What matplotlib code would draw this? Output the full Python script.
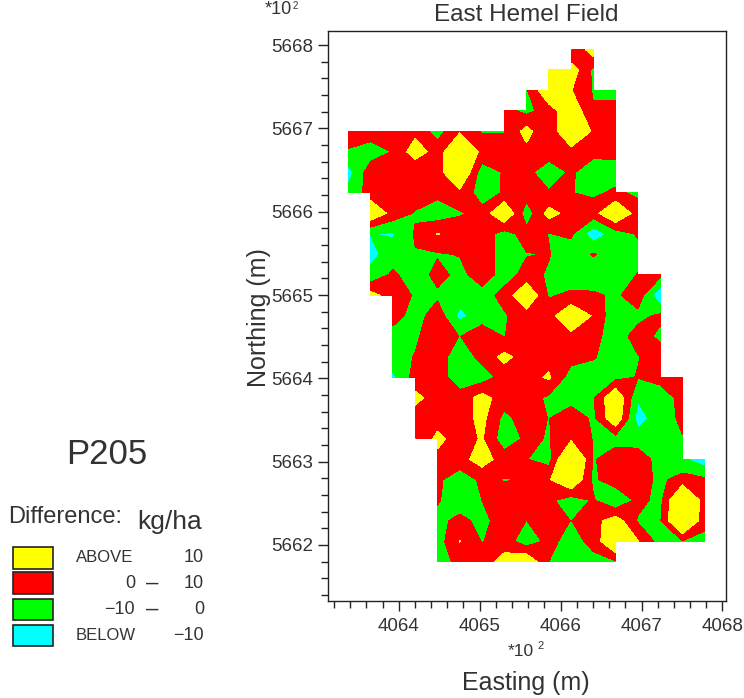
# -*- coding: utf-8 -*-
"""East Hemel Field - P205 difference map."""
import matplotlib
matplotlib.use('Agg')
from matplotlib import patches
import matplotlib.pyplot as plt
import numpy as np

N = np.nan
FONT = 'Liberation Sans'

# difference in kg/ha at the grid nodes, south row first, west column first
difference = np.array([
    [N, N, N, N, -5, 3, 5, 14, 20, 0, -5, -3, -1, N, N, N, N],
    [N, N, N, N, -5, 10.3, -0.5, 5, -6, 3, -4, 3, 24, 10.5, -4, -0.5, -3],
    [N, N, N, N, -3, 3, -3, 5, -0.1, 5, -0.2, 6, 16, -1, -1, 28, 3],
    [N, N, N, N, 1, -6, 0, 5, 5, 2, -5, 1, -10.2, 3, -3, 28, 5],
    [N, N, N, N, 2, -6, 2, -0.5, 0.5, 9, 22, -2, 6, 4, -2, 4, 2],
    [N, N, N, N, 7, 6, 15, 5, 0.3, -4, 30, -1, 6, 7, -5, -8, -16],
    [N, N, N, -1, 13, 5, 11, -6, 2, -0.7, 8, -0.5, -4, -6, -5, -0.5, N],
    [N, N, N, 5, 5, 5, 13, -3, 5, -0.3, 7, -2, 19, -14, -5, 2, N],
    [N, N, N, 13, 5, 4, 14, 5, 5, -2, -5, -1, 21, -9, -5, 3, N],
    [N, N, -12, 4, 5, -6, -5, 4, 6, 11.5, -5, -6, -3, 0.5, 3, 4, N],
    [N, N, -4, 0.5, 5, -6, 3, 13, 5, 6, 4, 1, -6, -0.5, 5, N, N],
    [N, N, -5, -1.5, 6, -0.2, 5, -0.3, 6, 7, 7, 3, -5, 4, -2, N, N],
    [N, N, 5, -5, 6, -13, -4, -1, 5, 6, 20, 9, -8, -3, 2, N, N],
    [N, 14, 5, -1, -2, -6, -4, 3, 21, -1, 2, 2, -2, 6, -18, N, N],
    [N, -7.5, 2, -6, 3.5, -3, 5, -4, 3, -1, -6, -8, -6, 0.5, 3, N, N],
    [N, -12.5, -6, -0.5, -1, 0.5, 6, -5, -0.5, 0.5, -6, 1, -5, -3, N, N, N],
    [N, -9.8, -11, 1, 10.5, 6, 5, -4, 4, -0.3, 2, -17, -5, 1, N, N, N],
    [N, 20, 6, -1, -6, -1, 3, 22, -6, 14, 6, 6, 22, 5, N, N, N],
    [-7, 4, 6, 6, 3, 7, -4.6, 1, 5, 1, 0.3, -2, 2, -2, N, N, N],
    [-14, 6, 5, -0.3, 5, 24, -6, 1, 3, -6, 1.5, -6, -5, N, N, N, N],
    [-1, -5, 0.5, 16, 5, 22, 7.5, 5, 7, 5, 5, 3, 3, N, N, N, N],
    [5, 5, 5, 7, -4, 9, -1, -0.5, 14, -0.5, 26, 8, 4, N, N, N, N],
    [N, N, N, N, N, N, N, 4, -3, 5, 18, 1, 3, N, N, N, N],
    [N, N, N, N, N, N, N, N, -1, 20, 10.5, -1, -3, N, N, N, N],
    [N, N, N, N, N, N, N, N, N, 20, 16, -2, N, N, N, N, N],
    [N, N, N, N, N, N, N, N, N, N, -2, 17, N, N, N, N, N],
])
easting = np.linspace(4063.378, 4067.78, difference.shape[1])
northing = np.linspace(5661.797, 5667.95, difference.shape[0])

class_levels = [-100, -10, 0, 10, 100]
class_colors = ['#00ffff', '#00ff00', '#ff0000', '#ffff00']

# legend rows, top to bottom: colour, label, dash, high
legend_colors = ['#ffff00', '#ff0000', '#00ff00', '#00ffff']
legend_left = ['ABOVE', '0', '\u221210', 'BELOW']
legend_dash = ['', '\u2013', '\u2013', '']
legend_right = ['10', '10', '0', '\u221210']

W, H = 744, 698


def px(x, y):
    """Пиксели картинки (от верхнего левого угла) в доли фигуры."""
    return x / W, 1 - y / H


def label(fig, x, y, s, size, ha='left', rotation=0):
    fx, fy = px(x, y)
    fig.text(fx, fy, s, fontsize=size, ha=ha, va='center', rotation=rotation,
             family=FONT, color='#333333')


fig = plt.figure(figsize=(W / 100, H / 100), dpi=100)
left, right, top, bottom = 327.5, 725.7, 31, 600.7
ax = fig.add_axes([left / W, 1 - bottom / H, (right - left) / W, (bottom - top) / H])

ax.contourf(easting, northing, np.ma.masked_invalid(difference), levels=class_levels,
            colors=class_colors, corner_mask=False, antialiased=False)

ax.set_xlim(4063.12, 4068.04)
ax.set_ylim(5661.33, 5668.17)
ax.set_xticks(range(4064, 4069))
ax.set_yticks(range(5662, 5669))
ax.set_xticks(np.arange(4063.2, 4068.01, 0.2), minor=True)
ax.set_yticks(np.arange(5661.4, 5668.01, 0.2), minor=True)
ax.tick_params(which='major', length=7.5, width=1, labelsize=13.5, colors='#222222')
ax.tick_params(which='minor', length=5, width=1, colors='#222222')
ax.tick_params(axis='x', which='major', pad=5)
ax.tick_params(axis='y', which='major', pad=3)
for tick in ax.get_xticklabels() + ax.get_yticklabels():
    tick.set_family(FONT)
    tick.set_color('#333333')
for spine in ax.spines.values():
    spine.set_linewidth(1)
    spine.set_color('#222222')

label(fig, 526, 15, 'East Hemel Field', 17.5, ha='center')
label(fig, 526, 683, 'Easting (m)', 18, ha='center')
label(fig, 259, 318, 'Northing (m)', 18, ha='center', rotation=90)
label(fig, 265, 10, '*10', 13)
label(fig, 293, 6, '2', 7)
label(fig, 508, 652, '*10', 12.5)
label(fig, 537, 646, '2', 8)

label(fig, 107, 455, 'P205', 25, ha='center')
label(fig, 8, 517, 'Difference:', 17)
label(fig, 137, 522, 'kg/ha', 19)

box_top = [547, 572, 599, 625]
box_bottom = [569, 594, 620, 646]
for i, color in enumerate(legend_colors):
    x0, y0 = px(13, box_bottom[i])
    x1, y1 = px(53, box_top[i])
    fig.add_artist(patches.Rectangle((x0, y0), x1 - x0, y1 - y0, transform=fig.transFigure,
                                     facecolor=color, edgecolor='#222222', linewidth=1.2))
    yc = (box_top[i] + box_bottom[i]) / 2
    if legend_dash[i]:
        label(fig, 135, yc, legend_left[i], 13, ha='right')
        label(fig, 152, yc, legend_dash[i], 16, ha='center')
    else:
        label(fig, 76, yc, legend_left[i], 12)
    label(fig, 204, yc, legend_right[i], 13, ha='right')

plt.savefig('out.png', dpi=100, facecolor='white')
plt.close()
